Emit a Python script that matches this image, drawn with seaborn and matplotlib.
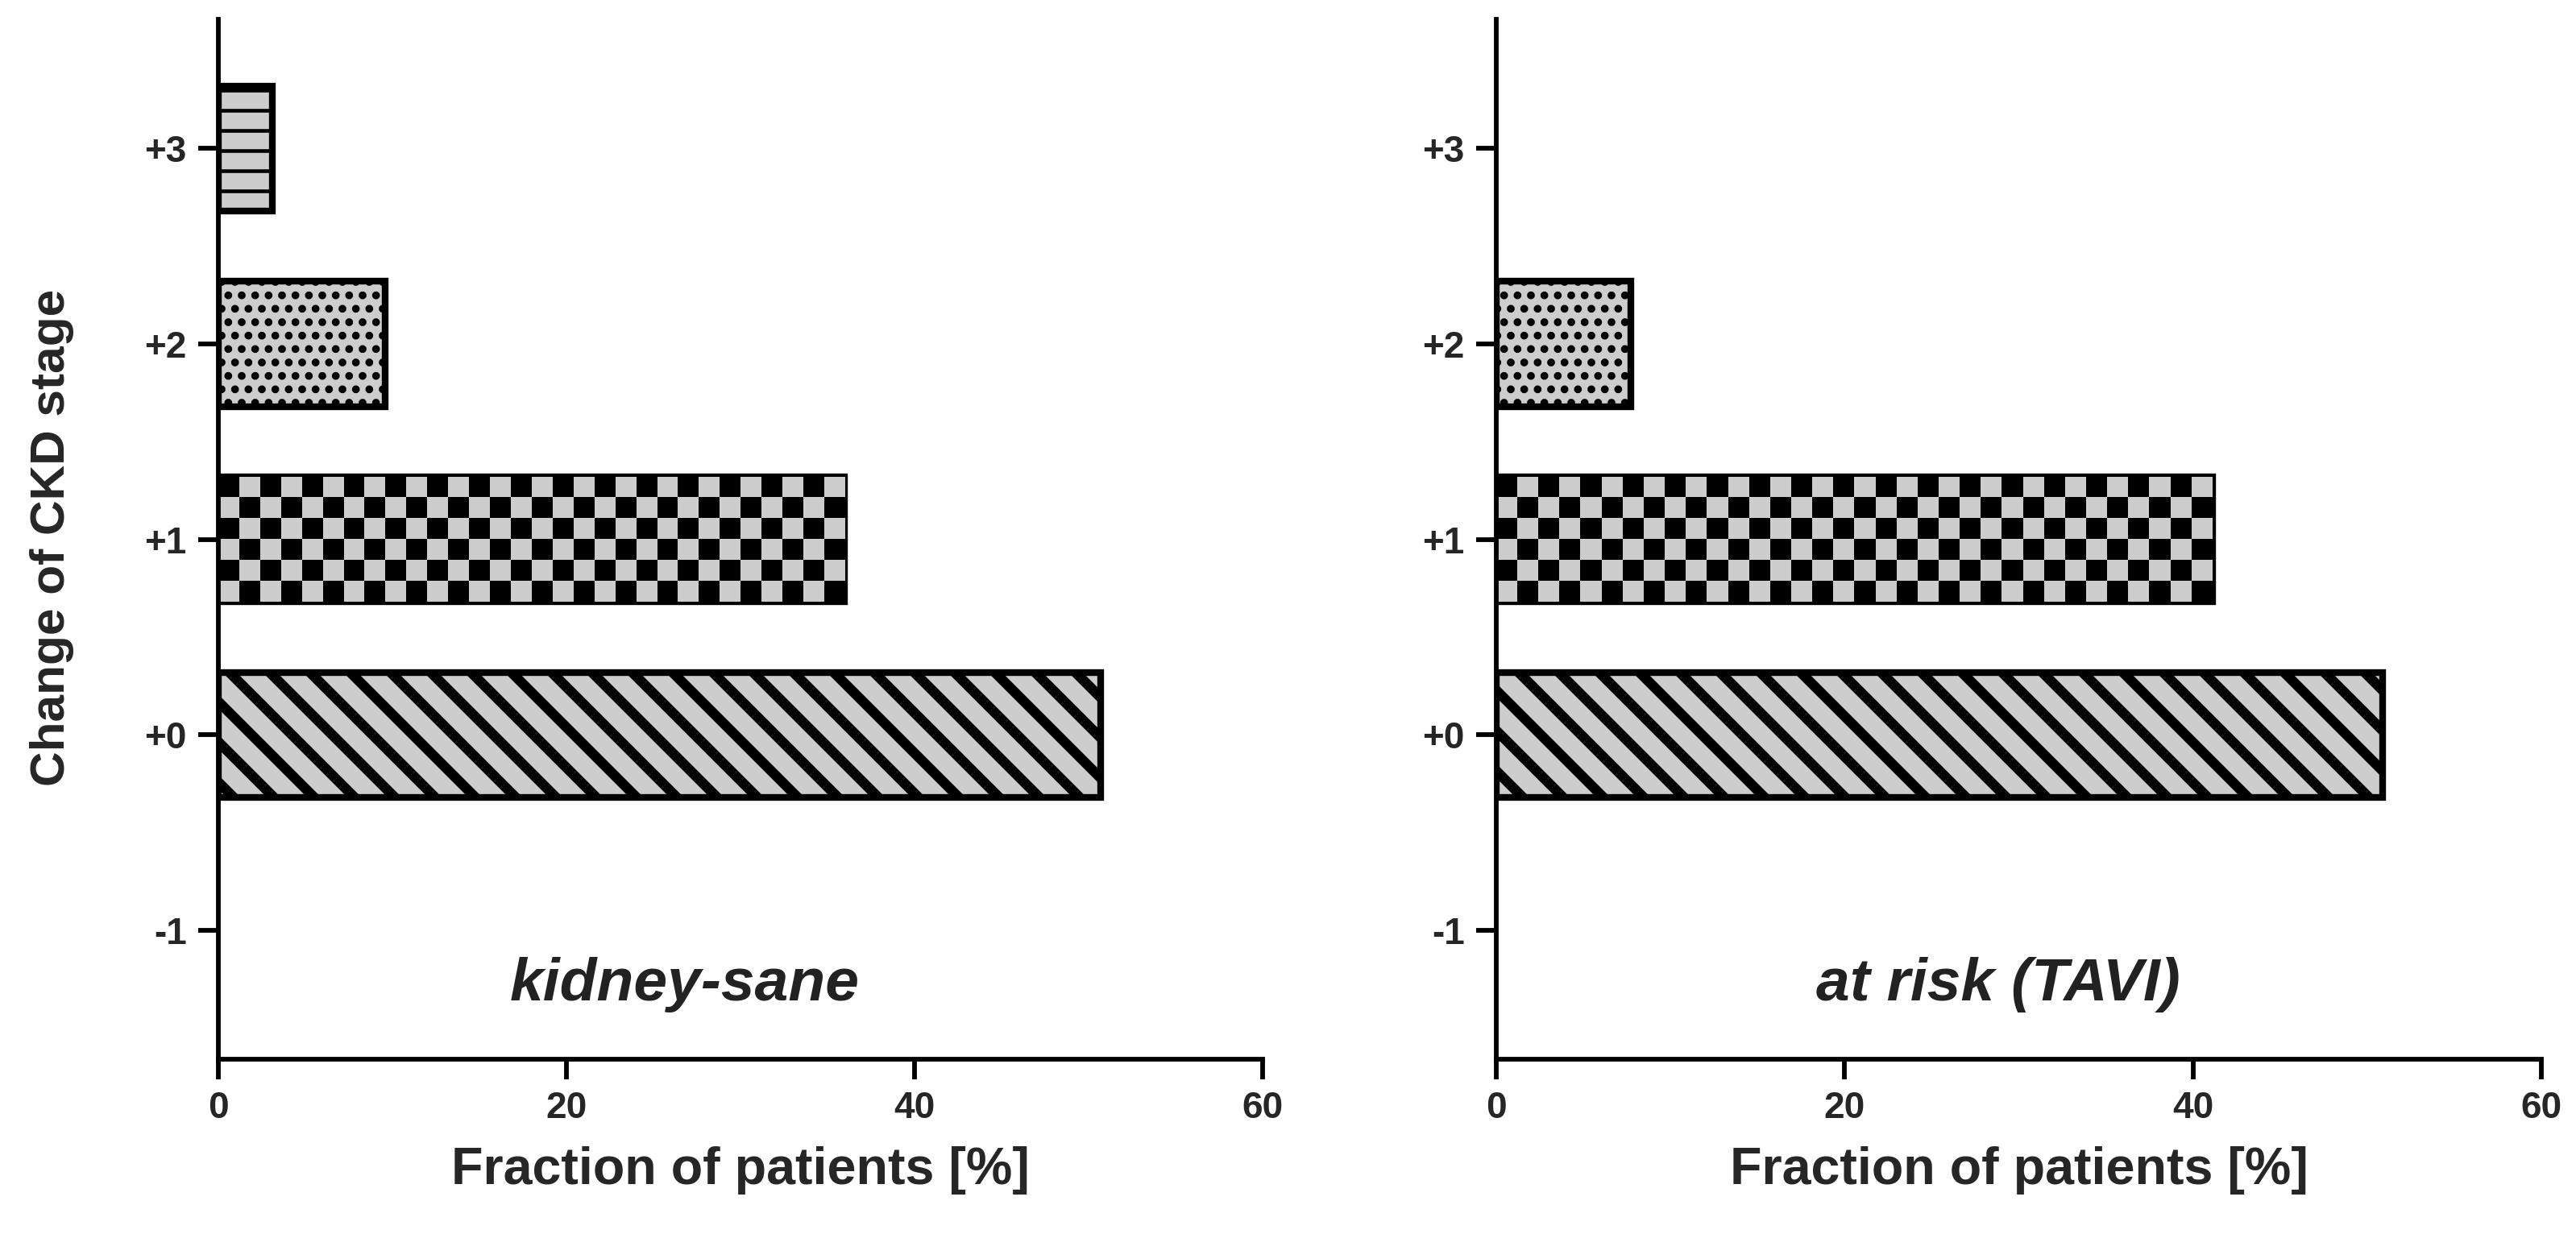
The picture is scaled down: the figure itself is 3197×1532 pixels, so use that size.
import numpy as np
import pandas as pd
import matplotlib
matplotlib.use("Agg")
import matplotlib.pyplot as plt
import seaborn as sns

# data
stages = ["+3", "+2", "+1", "+0", "-1"]
kidney_sane = [3.1, 9.6, 36.0, 50.7, 0.0]
at_risk = [0.0, 7.7, 41.1, 50.9, 0.0]
hatches = ["--", "...", "checker", "\\\\", None]
hatch_lw = [1.1, 1.5, 1.0, 3.0, 1.0]
panel_labels = ["kidney-sane", "at risk (TAVI)"]

sns.set_theme(style="ticks")
plt.rcParams["font.family"] = ["Liberation Sans", "DejaVu Sans"]
plt.rcParams["font.weight"] = "bold"
plt.rcParams["axes.labelweight"] = "bold"

fill = "#cdcdcd"
DPI = 300
fig = plt.figure(figsize=(3197 / DPI, 1532 / DPI), dpi=DPI)
ax1 = fig.add_axes([0.0848, 0.1417, 0.4052, 0.8425])
ax2 = fig.add_axes([0.5809, 0.1417, 0.4057, 0.8425])


def checker(ax, p):
    x0, y0 = p.get_x(), p.get_y()
    w, h = p.get_width(), p.get_height()
    # square size ~26 px
    px = ax.transData.transform([[0, 0], [1, 1]])
    ux = abs(px[1, 0] - px[0, 0])
    uy = abs(px[1, 1] - px[0, 1])
    nx = max(1, int(round(w * ux / 26)))
    ny = max(1, int(round(h * uy / 26)))
    board = (np.indices((ny, nx)).sum(axis=0) % 2).astype(float)
    img = ax.imshow(board, cmap=matplotlib.colors.ListedColormap(["black", fill]),
                    extent=[x0, x0 + w, y0 + h, y0], aspect="auto",
                    interpolation="nearest", zorder=p.get_zorder() + 0.1)
    img.set_clip_path(p)


for ax, vals, lab in zip([ax1, ax2], [kidney_sane, at_risk], panel_labels):
    df = pd.DataFrame({"stage": stages, "frac": vals})
    sns.barplot(data=df, x="frac", y="stage", order=stages, orient="h",
                color=fill, width=0.64, edgecolor="black", linewidth=2.0,
                saturation=1, ax=ax)
    ax.set_xlim(0, 60)
    ax.set_ylim(4.66, -0.66)
    ax.set_xticks([0, 20, 40, 60])
    ax.set_xlabel("Fraction of patients [%]", fontsize=15.5, labelpad=6)
    ax.set_ylabel("Change of CKD stage" if ax is ax1 else "", fontsize=14.5)
    ax.yaxis.set_label_coords(-0.138, 0.502)
    for s in ["top", "right"]:
        ax.spines[s].set_visible(False)
    for s in ["left", "bottom"]:
        ax.spines[s].set_linewidth(1.4)
        ax.spines[s].set_color("black")
    ax.tick_params(axis="both", length=6, width=1.4, color="black",
                   labelsize=11, pad=3.5)
    for t in ax.get_xticklabels() + ax.get_yticklabels():
        t.set_fontweight("bold")
    for p, v, h, hl in zip(ax.patches, vals, hatches, hatch_lw):
        if v == 0:
            p.set_visible(False)
            continue
        p.set_facecolor(fill)
        if h == "checker":
            checker(ax, p)
        elif h:
            p.set_hatch(h)
            if hasattr(p, "set_hatch_linewidth"):
                p.set_hatch_linewidth(hl)
    ax.text(26.8 if ax is ax1 else 28.8, 4.36, lab, fontsize=18, fontweight="bold",
            style="italic", ha="center", va="baseline", color="#222222")

fig.savefig("out.png", dpi=DPI)
